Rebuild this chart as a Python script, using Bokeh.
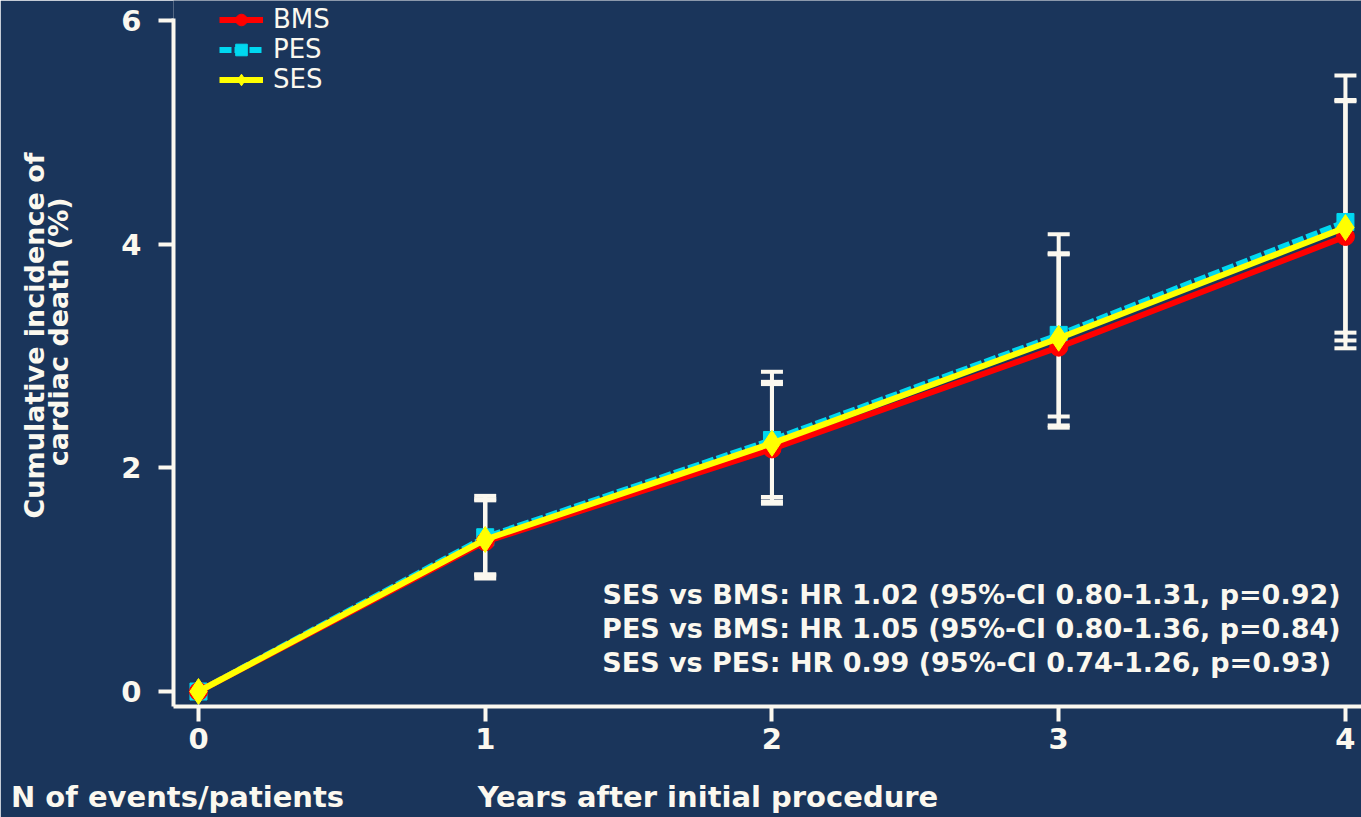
from bokeh.plotting import figure
from bokeh.models import (Range1d, Label, Legend, LegendItem, FixedTicker, LinearAxis)
from bokeh.embed import file_html
from bokeh.resources import INLINE
import math

# ---------------- data ----------------
years = [0, 1, 2, 3, 4]
bms = [0.0, 1.34, 2.17, 3.08, 4.07]
pes = [0.0, 1.38, 2.25, 3.19, 4.20]
ses = [0.0, 1.36, 2.22, 3.16, 4.15]

ci_years = [1, 2, 3, 4]
bms_upper = [1.71, 2.75, 3.91, 5.29]
bms_lower = [1.01, 1.68, 2.36, 3.07]
pes_upper = [1.75, 2.86, 4.09, 5.51]
pes_lower = [1.05, 1.74, 2.46, 3.21]
ses_upper = [1.72, 2.77, 3.92, 5.28]
ses_lower = [1.04, 1.70, 2.38, 3.14]

y_ticks = [0, 2, 4, 6]
x_ticks = [0, 1, 2, 3, 4]

hr_lines = [
    "SES vs BMS: HR 1.02 (95%-CI 0.80-1.31, p=0.92)",
    "PES vs BMS: HR 1.05 (95%-CI 0.80-1.36, p=0.84)",
    "SES vs PES:  HR 0.99 (95%-CI 0.74-1.26, p=0.93)",
]
series_names = ["BMS", "PES", "SES"]
ylabel_lines = ["Cumulative incidence of", "cardiac death (%)"]
bottom_left_text = "N of events/patients"
xlabel_text = "Years after initial procedure"

# ---------------- style ----------------
BG = "#1a355b"
FG = "#fbf8ef"
WFONT = "DejaVu Sans"

W, H = 1361, 817
p = figure(width=W, height=H, output_backend="svg", toolbar_location=None,
           x_range=Range1d(-0.0871, 4.056), y_range=Range1d(-0.134, 6.181),
           min_border_left=172, min_border_top=0, min_border_bottom=111,
           min_border_right=0)
p.background_fill_color = BG
p.border_fill_color = BG
p.outline_line_color = None
p.grid.visible = False

for ax in (p.xaxis[0], p.yaxis[0]):
    ax.axis_line_color = FG
    ax.axis_line_width = 4
    ax.major_tick_line_color = FG
    ax.major_tick_line_width = 4
    ax.major_tick_in = 0
    ax.major_tick_out = 15
    ax.minor_tick_line_color = None
    ax.major_label_text_color = FG
    ax.major_label_text_font = WFONT
    ax.major_label_text_font_style = "bold"
    ax.major_label_text_font_size = "29px"
p.xaxis.ticker = FixedTicker(ticks=x_ticks)
p.yaxis.ticker = FixedTicker(ticks=y_ticks)
p.yaxis.bounds = (-0.134, 6.02)
p.xaxis.major_label_standoff = 6
p.yaxis.major_label_standoff = 17

# pixel (reference screen coords) -> data helpers for text placement
def X(sx):
    return round((sx - 197) / 287.0, 3)

def Y(sy):
    return round((691 - sy) / 111.8, 3)

def text_axis(pos, ticks, labels, standoff, size, orientation="horizontal"):
    ax = LinearAxis(ticker=FixedTicker(ticks=ticks),
                    major_label_overrides={t: l for t, l in zip(ticks, labels)})
    ax.axis_line_color = None
    ax.major_tick_line_color = None
    ax.minor_tick_line_color = None
    ax.major_tick_in = 0
    ax.major_tick_out = 0
    ax.major_label_standoff = standoff
    ax.major_label_text_color = FG
    ax.major_label_text_font = WFONT
    ax.major_label_text_font_style = "bold"
    ax.major_label_text_font_size = size
    ax.major_label_orientation = orientation
    p.add_layout(ax, pos)
    return ax

# bottom texts (as tick labels of a bare axis below the x-axis)
text_axis("below", [X(176), X(707)], [bottom_left_text, xlabel_text], 28, "29px")
# y-axis title lines (bare axes on the left); text ends at its tick
text_axis("left", [Y(197)], [ylabel_lines[1]], 60, "27px", math.pi / 2)
text_axis("left", [Y(152)], [ylabel_lines[0]], -10, "27px", math.pi / 2)

# error bars (drawn below the curves)
for lo, up in ((bms_lower, bms_upper), (pes_lower, pes_upper), (ses_lower, ses_upper)):
    p.segment(x0=ci_years, y0=lo, x1=ci_years, y1=up, line_color=FG, line_width=4)
    p.scatter(ci_years, up, marker="dash", size=22, line_color=FG, line_width=4)
    p.scatter(ci_years, lo, marker="dash", size=22, line_color=FG, line_width=4)

# curves
pes_line = p.line(years, pes, line_color="#00d8f0", line_width=6, line_dash="12 3")
pes_mk = p.scatter(years, pes, marker="square", size=17, fill_color="#00d8f0", line_color="#00d8f0")
bms_line = p.line(years, bms, line_color="#ff0000", line_width=6)
bms_mk = p.scatter(years, bms, marker="circle", size=18, fill_color="#ff0000", line_color="#ff0000")
ses_line = p.line(years, ses, line_color="#ffff00", line_width=6)
ses_mk = p.scatter(years, ses, marker="diamond", size=26, fill_color="#ffff00", line_color="#ffff00")

legend = Legend(items=[
    LegendItem(label=series_names[0], renderers=[bms_line, bms_mk]),
    LegendItem(label=series_names[1], renderers=[pes_line, pes_mk]),
    LegendItem(label=series_names[2], renderers=[ses_line, ses_mk]),
], location=(46, 612))
legend.background_fill_alpha = 0
legend.border_line_color = None
legend.label_text_color = FG
legend.label_text_font = WFONT
legend.label_text_font_size = "26px"
legend.glyph_width = 44
legend.glyph_height = 29
legend.label_height = 29
legend.spacing = -4
legend.padding = 0
legend.margin = 0
legend.label_standoff = 10
p.add_layout(legend)

for i, t in enumerate(hr_lines):
    p.add_layout(Label(x=X(1340), y=Y(594 + 34 * i), text=t, text_align="right",
                       text_baseline="middle", text_color=FG, text_font=WFONT,
                       text_font_style="bold", text_font_size="27px"))

html = file_html(p, INLINE)
open("out.html", "w").write(html)
